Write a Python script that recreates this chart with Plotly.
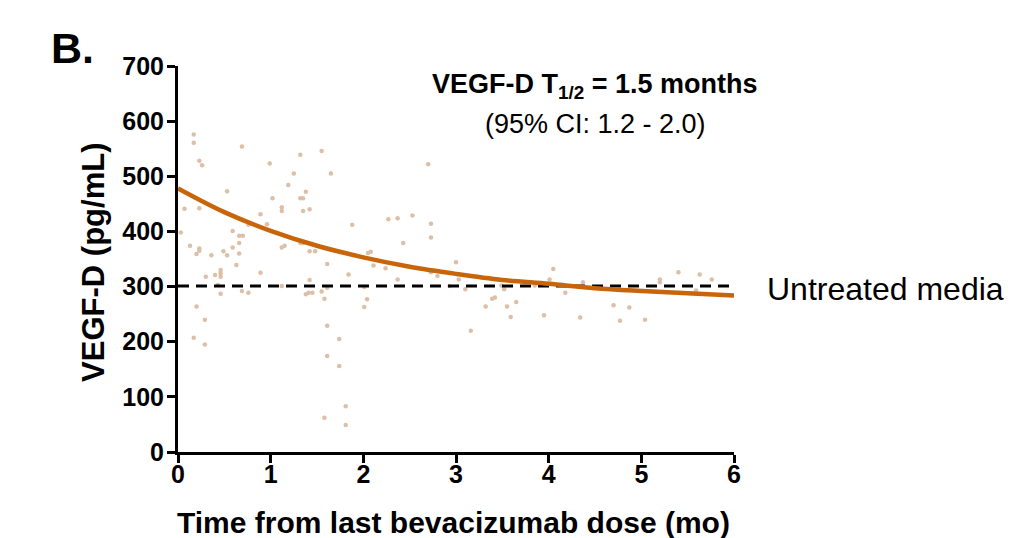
import plotly.graph_objects as go

# Scatter data: time from last dose (months) and VEGF-D (pg/mL)
time_mo = [0.17, 0.17, 0.23, 0.26, 0.69, 0.99, 0.53, 1.02, 0.07, 0.23, 0.89,
           1.32, 1.55, 1.25, 1.65, 1.19, 1.38, 1.32, 1.35, 1.12, 1.12, 1.35, 1.42,
           1.88, 1.84, 2.01, 2.04, 2.01, 2.08, 0.03, 0.13, 0.23, 0.23, 0.20, 0.36,
           0.49, 0.53, 0.59, 0.66, 0.70, 0.66, 0.59, 0.66, 0.76, 0.96, 0.63, 0.46,
           0.46, 0.46, 0.40, 0.30, 0.43, 0.46, 0.69, 0.76, 0.89, 0.20, 0.29, 0.17,
           0.29, 1.12, 1.42, 1.38, 1.41, 1.45, 1.55, 1.58, 1.61, 1.61, 1.61, 1.74,
           1.74, 1.58, 1.81, 1.81, 1.12, 1.15, 1.32, 1.35, 1.42, 1.48, 2.05, 2.11,
           1.61, 2.27, 2.37, 2.53, 2.73, 2.73, 2.43, 2.24, 2.37, 3.00, 3.03, 2.93,
           2.73, 2.80, 3.10, 3.16, 3.32, 3.39, 3.42, 3.49, 3.52, 3.55, 3.59, 3.65,
           3.85, 3.95, 4.01, 4.05, 2.70, 4.18, 4.34, 4.37, 4.70, 4.77, 4.87, 5.04,
           5.20, 5.20, 5.40, 5.59, 5.63, 5.76]
vegf_d = [576, 561, 528, 520, 554, 523, 473, 460, 441, 442, 431,
          539, 546, 505, 505, 484, 472, 460, 460, 444, 437, 437, 440,
          412, 322, 299, 277, 263, 363, 398, 374, 369, 365, 359, 357,
          364, 357, 401, 392, 392, 379, 371, 360, 412, 413, 339, 330,
          324, 318, 321, 318, 303, 287, 292, 289, 325, 264, 240, 207,
          195, 301, 312, 286, 289, 289, 291, 278, 298, 229, 174, 205,
          156, 62, 83, 49, 371, 374, 379, 379, 364, 364, 361, 338,
          341, 422, 424, 429, 414, 389, 379, 333, 313, 344, 313, 301,
          326, 319, 295, 220, 264, 278, 280, 302, 295, 264, 245, 272,
          302, 248, 313, 332, 522, 289, 244, 308, 266, 238, 262, 240,
          313, 308, 326, 293, 322, 313]

# Fitted one-phase decay curve
fit_t = [0, 0.5, 1, 1.5, 2, 2.5, 3, 3.5, 4, 4.5, 5, 5.5, 6]
fit_y = [478, 435, 401, 374, 353, 336, 323, 312, 305, 297, 292, 288, 284]

median_t = [0, 6]
median_y = [301, 301]

x_ticks = [0, 1, 2, 3, 4, 5, 6]
y_ticks = [0, 100, 200, 300, 400, 500, 600, 700]

FONT = "Liberation Sans, Arial, Helvetica, sans-serif"

fig = go.Figure()
fig.add_trace(go.Scatter(x=time_mo, y=vegf_d, mode="markers",
                         marker=dict(size=4.5, color="#dcbfa6"),
                         cliponaxis=False, hoverinfo="x+y"))
fig.add_trace(go.Scatter(x=median_t, y=median_y, mode="lines",
                         line=dict(color="black", width=2.8, dash="11px,7px"),
                         cliponaxis=False))
fig.add_trace(go.Scatter(x=fit_t, y=fit_y, mode="lines", line_shape="spline",
                         line=dict(color="#c8640a", width=4.5),
                         cliponaxis=False))

axis_common = dict(showline=True, linecolor="black", linewidth=3,
                   ticks="outside", ticklen=8, tickwidth=3, tickcolor="black",
                   showgrid=False, zeroline=False,
                   tickfont=dict(family=FONT, size=25, color="black", weight="bold"))

fig.update_layout(
    width=1004, height=530,
    margin=dict(l=170, r=278, t=58, b=86),
    paper_bgcolor="white", plot_bgcolor="white",
    showlegend=False,
    font=dict(family=FONT, color="black"),
    xaxis=dict(range=[0, 6], tickvals=x_ticks, ticklabelstandoff=-10, **axis_common),
    yaxis=dict(range=[0, 700], tickvals=y_ticks, ticklabelstandoff=-2, **axis_common),
)

# Axis titles
fig.add_annotation(text="<b>Time from last bevacizumab dose (mo)</b>",
                   xref="paper", yref="paper", x=0.496, y=-0.183,
                   xanchor="center", yanchor="middle", showarrow=False,
                   font=dict(family=FONT, size=30, color="black"))
fig.add_annotation(text="<b>VEGF-D (pg/mL)</b>", textangle=-90,
                   xref="paper", yref="paper", x=-0.151, y=0.49,
                   xanchor="center", yanchor="middle", showarrow=False,
                   font=dict(family=FONT, size=31, color="black"))

fig.add_annotation(text="<b>B.</b>", xref="paper", yref="paper",
                   x=-0.232, y=1.046, xanchor="left", yanchor="middle",
                   showarrow=False, font=dict(family=FONT, size=43, color="black"))
fig.add_annotation(text="<b>VEGF-D T<sub>1/2</sub> = 1.5 months</b>",
                   xref="paper", yref="paper", x=0.75, y=0.947,
                   xanchor="center", yanchor="middle", showarrow=False,
                   font=dict(family=FONT, size=27, color="black"))
fig.add_annotation(text="(95% CI: 1.2 - 2.0)", xref="paper", yref="paper",
                   x=0.75, y=0.85, xanchor="center", yanchor="middle",
                   showarrow=False, font=dict(family=FONT, size=27, color="black"))
fig.add_annotation(text="Untreated median", xref="paper", yref="y",
                   x=1.056, y=295, xanchor="left", yanchor="middle",
                   showarrow=False, font=dict(family=FONT, size=32, color="black"))

fig.write_html("out.html")
